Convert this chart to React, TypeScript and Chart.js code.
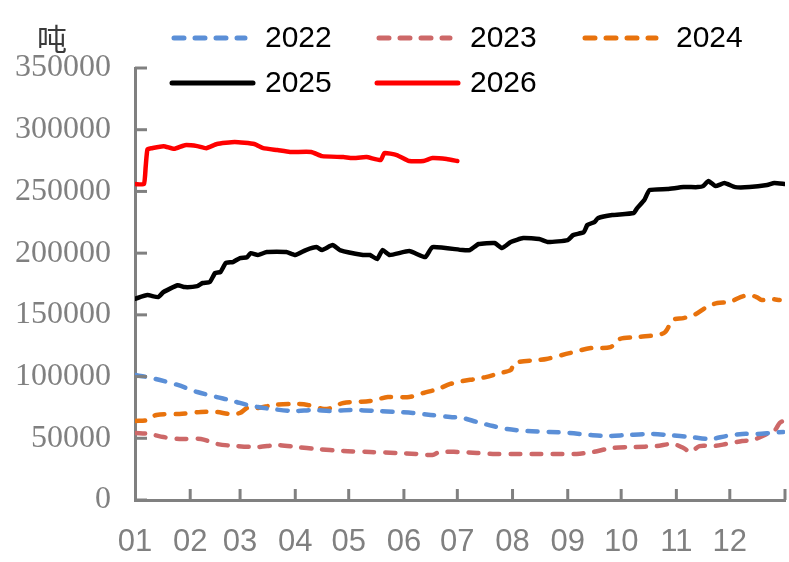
import React, { useEffect, useRef } from "react";
import { Chart, registerables } from "chart.js";

Chart.register(...registerables);

const monthStarts = [0, 31, 59, 90, 120, 151, 181, 212, 243, 273, 304, 334, 365];
const monthLabels = ["01", "02", "03", "04", "05", "06", "07", "08", "09", "10", "11", "12", ""];
const unitLabel = "吨";
const seriesNames = ["2022", "2023", "2024", "2025", "2026"];

const days2022 = [0, 7, 14, 24, 35, 46, 53, 57, 63, 69, 77, 89, 100, 110, 121, 136, 147, 156, 166, 177, 184, 192, 201, 209, 220, 233, 244, 256, 265, 276, 289, 300, 312, 323, 332, 341, 349, 357, 364];
const vals2022 = [101200, 99600, 97200, 93200, 87500, 83400, 81000, 79400, 77000, 75300, 73700, 72100, 72900, 72100, 72900, 72100, 71300, 70500, 68900, 67200, 66400, 63200, 59900, 57500, 55900, 55100, 54300, 52600, 51800, 52600, 53500, 52600, 51000, 49400, 51800, 53500, 53500, 54300, 55100];

const days2023 = [0, 8, 16, 25, 37, 46, 57, 69, 80, 91, 102, 117, 132, 147, 158, 167, 171, 181, 192, 201, 215, 226, 239, 248, 257, 268, 280, 293, 302, 308, 312, 317, 325, 332, 341, 347, 355, 359, 362, 365];
const vals2023 = [54300, 53500, 51000, 49400, 49400, 45400, 43700, 42900, 44500, 42900, 41300, 39700, 38900, 38100, 37300, 36500, 38900, 38900, 38100, 37300, 37300, 37300, 37300, 37300, 38900, 42100, 42900, 43700, 45400, 42100, 38900, 43700, 43700, 45400, 47800, 48600, 53500, 55900, 62400, 64800];

const days2024 = [0, 7, 12, 25, 37, 46, 53, 59, 63, 69, 78, 91, 97, 106, 110, 117, 132, 142, 154, 162, 170, 177, 184, 191, 197, 205, 211, 213, 226, 231, 244, 256, 267, 272, 282, 297, 302, 308, 314, 321, 327, 334, 340, 345, 349, 352, 357, 362];
const vals2024 = [64000, 64800, 68900, 69700, 71300, 71300, 69700, 70500, 74500, 74500, 77000, 77800, 77000, 73700, 74500, 78600, 80200, 83400, 83400, 86700, 89900, 94000, 96400, 98000, 99600, 102900, 105300, 111000, 113400, 114200, 119000, 123100, 123900, 130400, 132000, 135300, 145800, 147400, 149900, 156300, 159600, 160400, 164400, 166000, 164400, 162000, 162800, 162000];

const days2025 = [0, 7, 13, 16, 24, 28, 35, 38, 42, 45, 48, 51, 55, 59, 63, 65, 69, 74, 85, 90, 96, 102, 105, 111, 115, 128, 132, 136, 139, 143, 154, 163, 167, 184, 188, 193, 202, 206, 211, 218, 227, 232, 243, 246, 252, 254, 258, 260, 268, 280, 282, 286, 289, 299, 308, 316, 319, 322, 326, 331, 337, 345, 355, 359, 365];
const vals2025 = [163000, 166000, 164400, 168500, 174000, 172500, 173300, 175800, 176600, 183900, 184700, 192000, 192800, 196000, 196800, 200000, 198500, 200900, 200900, 198500, 202500, 204900, 202500, 206500, 202500, 198500, 198500, 195200, 202500, 198500, 201700, 196800, 204900, 202500, 202500, 207400, 208200, 204100, 209000, 212200, 211400, 209000, 210600, 214600, 217000, 222800, 225200, 228400, 230900, 232500, 236500, 243000, 251100, 251900, 253500, 253500, 254300, 258400, 254300, 256800, 253500, 253500, 255200, 256800, 256000];

const days2026 = [0, 5, 6, 7, 9.5, 16, 22, 28, 35, 40, 46, 56, 67, 72, 80, 87, 99, 105, 117, 122, 130, 138, 140, 147, 154, 162, 167, 175, 181];
const vals2026 = [256000, 256000, 270000, 284000, 285000, 286700, 284500, 287500, 286700, 285000, 288400, 290000, 288400, 285100, 283500, 282000, 282000, 278600, 277800, 277000, 277800, 275400, 281100, 279500, 274600, 274600, 277000, 276200, 274600];

const pts = (d: number[], v: number[]) => d.map((x, i) => ({ x, y: v[i] }));

const AXIS_GRAY = "#808080";

const insideTicks = {
  id: "insideTicks",
  afterDraw(chart: any) {
    const { ctx, scales, chartArea } = chart;
    const x = scales.x;
    const y = scales.y;
    ctx.save();
    ctx.strokeStyle = AXIS_GRAY;
    ctx.lineWidth = 3;
    y.ticks.forEach((t: any) => {
      const py = y.getPixelForValue(t.value);
      ctx.beginPath();
      ctx.moveTo(chartArea.left, py);
      ctx.lineTo(chartArea.left + 12, py);
      ctx.stroke();
    });
    x.ticks.forEach((t: any) => {
      if (t.value === 0) return;
      const px = x.getPixelForValue(t.value);
      ctx.beginPath();
      ctx.moveTo(px, chartArea.bottom);
      ctx.lineTo(px, chartArea.bottom - 11);
      ctx.stroke();
    });
    ctx.restore();
  },
};

const customLegend = {
  id: "customLegend",
  afterDraw(chart: any) {
    const { ctx } = chart;
    const slots = [
      { x: 172, y: 38, len: 73 },
      { x: 377, y: 38, len: 73 },
      { x: 583, y: 38, len: 73 },
      { x: 172, y: 83, len: 81 },
      { x: 377, y: 83, len: 81 },
    ];
    ctx.save();
    chart.data.datasets.forEach((ds: any, i: number) => {
      const s = slots[i];
      if (!s) return;
      ctx.beginPath();
      ctx.strokeStyle = ds.borderColor;
      ctx.lineWidth = ds.borderWidth + 0.5;
      ctx.lineCap = ds.borderCapStyle || "butt";
      ctx.setLineDash(ds.borderDash || []);
      ctx.moveTo(s.x + (ds.borderDash ? 2 : 0), s.y);
      ctx.lineTo(s.x + s.len, s.y);
      ctx.stroke();
      ctx.setLineDash([]);
      ctx.fillStyle = "#000000";
      ctx.font = "30px 'Liberation Sans Narrow', 'Liberation Sans', Arial, sans-serif";
      ctx.textBaseline = "middle";
      ctx.textAlign = "left";
      ctx.fillText(ds.label, s.x + 93, s.y + 1);
    });
    ctx.fillStyle = "#3a3a3a";
    ctx.font = "30px 'Noto Sans CJK SC', sans-serif";
    ctx.textAlign = "center";
    ctx.textBaseline = "middle";
    ctx.fillText(unitLabel, 52, 39);
    ctx.restore();
  },
};

export default function App() {
  const ref = useRef<HTMLCanvasElement | null>(null);

  useEffect(() => {
    if (!ref.current) return;
    const dashed = (label: string, color: string, data: any[]) => ({
      label,
      data,
      borderColor: color,
      backgroundColor: color,
      borderWidth: 4.5,
      borderDash: [10, 11],
      borderCapStyle: "round",
      pointRadius: 0,
      tension: 0.3,
      fill: false,
    });
    const solid = (label: string, color: string, data: any[]) => ({
      label,
      data,
      borderColor: color,
      backgroundColor: color,
      borderWidth: 4.5,
      borderCapStyle: "round",
      borderJoinStyle: "round",
      pointRadius: 0,
      tension: 0.15,
      fill: false,
    });
    const chart = new Chart(ref.current, {
      type: "line",
      data: {
        datasets: [
          dashed(seriesNames[0], "#5B8FD7", pts(days2022, vals2022)),
          dashed(seriesNames[1], "#CD6868", pts(days2023, vals2023)),
          dashed(seriesNames[2], "#E8720C", pts(days2024, vals2024)),
          solid(seriesNames[3], "#000000", pts(days2025, vals2025)),
          solid(seriesNames[4], "#FF0000", pts(days2026, vals2026)),
        ] as any,
      },
      options: {
        animation: false,
        responsive: false,
        devicePixelRatio: 1,
        layout: { padding: { top: 68, right: 4, bottom: 0, left: 0 } },
        plugins: {
          legend: { display: false },
          tooltip: { enabled: false },
        },
        scales: {
          x: {
            type: "linear",
            min: 0,
            max: 365,
            grid: { display: false, drawTicks: false },
            border: { display: true, color: AXIS_GRAY, width: 3 },
            afterBuildTicks: (s: any) => {
              s.ticks = monthStarts.map((v) => ({ value: v }));
            },
            afterFit: (s: any) => {
              s.height = 62;
              s.paddingRight = 0;
              s.paddingLeft = 0;
            },
            ticks: {
              autoSkip: false,
              maxRotation: 0,
              padding: 24,
              color: AXIS_GRAY,
              font: { family: "'Liberation Sans Narrow', 'Liberation Sans', Arial, sans-serif", size: 31 },
              callback: (v: any) => {
                const idx = monthStarts.indexOf(Number(v));
                return idx >= 0 ? monthLabels[idx] : "";
              },
            },
          },
          y: {
            min: 0,
            max: 350000,
            grid: { display: false, drawTicks: false },
            border: { display: true, color: AXIS_GRAY, width: 3 },
            afterFit: (s: any) => {
              s.width = 135;
              s.paddingTop = 0;
              s.paddingBottom = 0;
            },
            ticks: {
              stepSize: 50000,
              padding: 24,
              color: AXIS_GRAY,
              font: { family: "'Liberation Serif', 'Times New Roman', serif", size: 32 },
              callback: (v: any) => String(v),
            },
          },
        },
      },
      plugins: [insideTicks, customLegend],
    });
    return () => chart.destroy();
  }, []);

  return (
    <div style={{ position: "absolute", left: 0, top: 0, width: 789, height: 562, background: "#ffffff" }}>
      <canvas ref={ref} width={789} height={562} style={{ width: 789, height: 562 }} />
    </div>
  );
}
